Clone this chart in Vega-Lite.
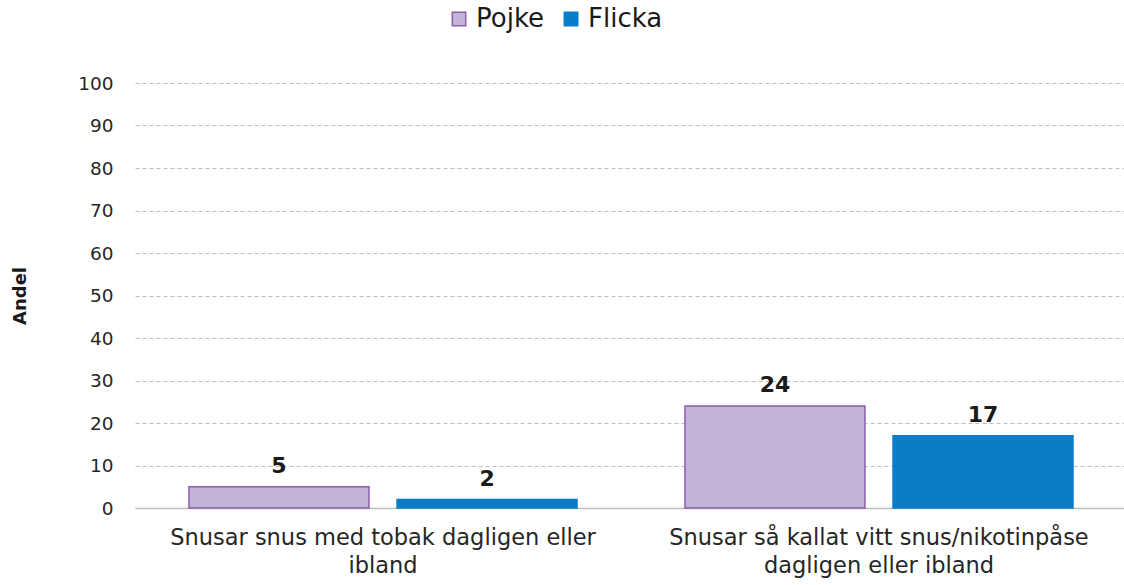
{
  "$schema": "https://vega.github.io/schema/vega-lite/v6.json",
  "autosize": "none",
  "width": 992,
  "height": 425,
  "padding": {"left": 135, "top": 83, "right": 0, "bottom": 77},
  "background": "white",
  "config": {
    "font": "DejaVu Sans",
    "view": {"stroke": null}
  },
  "data": {
    "values": [
      {"kategori": "Snusar snus med tobak dagligen eller ibland", "kon": "Pojke", "andel": 5},
      {"kategori": "Snusar snus med tobak dagligen eller ibland", "kon": "Flicka", "andel": 2},
      {"kategori": "Snusar så kallat vitt snus/nikotinpåse dagligen eller ibland", "kon": "Pojke", "andel": 24},
      {"kategori": "Snusar så kallat vitt snus/nikotinpåse dagligen eller ibland", "kon": "Flicka", "andel": 17}
    ]
  },
  "encoding": {
    "x": {
      "field": "kategori",
      "type": "nominal",
      "sort": null,
      "scale": {"paddingInner": 0.2177, "paddingOuter": 0.1089},
      "axis": {
        "title": null,
        "labelAngle": 0,
        "labelFontSize": 22.5,
        "labelColor": "#262626",
        "labelPadding": 18,
        "labelLineHeight": 28,
        "labelLimit": 600,
        "labelBaseline": "top",
        "ticks": false,
        "domainColor": "#BDBDBD",
        "domainWidth": 1.5,
        "labelExpr": "indexof(datum.value, 'tobak') >= 0 ? ['Snusar snus med tobak dagligen eller', 'ibland'] : ['Snusar så kallat vitt snus/nikotinpåse', 'dagligen eller ibland']"
      }
    },
    "xOffset": {
      "field": "kon",
      "type": "nominal",
      "sort": ["Pojke", "Flicka"],
      "scale": {"paddingInner": 0.135, "paddingOuter": 0}
    },
    "y": {
      "field": "andel",
      "type": "quantitative",
      "scale": {"domain": [0, 100]},
      "axis": {
        "title": "Andel",
        "titleFontSize": 18,
        "titleFontWeight": "bold",
        "titleColor": "#1a1a1a",
        "titlePadding": 48,
        "values": [0, 10, 20, 30, 40, 50, 60, 70, 80, 90, 100],
        "labelFontSize": 18.5,
        "labelColor": "#262626",
        "labelPadding": 22,
        "ticks": false,
        "domain": false,
        "gridDash": [4, 3],
        "gridColor": "#BDBDBD",
        "gridWidth": 1
      }
    }
  },
  "layer": [
    {
      "mark": {"type": "bar", "strokeWidth": 1.5},
      "encoding": {
        "color": {
          "field": "kon",
          "type": "nominal",
          "sort": ["Pojke", "Flicka"],
          "scale": {"domain": ["Pojke", "Flicka"], "range": ["#C3B3D9", "#0A7CC8"]},
          "legend": {
            "title": null,
            "orient": "none",
            "direction": "horizontal",
            "legendX": 311,
            "legendY": -77,
            "symbolType": "square",
            "symbolSize": 180,
            "symbolStrokeWidth": 1.5,
            "labelFontSize": 26,
            "labelColor": "#1a1a1a",
            "labelOffset": 4,
            "columnPadding": 13
          }
        },
        "stroke": {
          "field": "kon",
          "type": "nominal",
          "sort": ["Pojke", "Flicka"],
          "scale": {"domain": ["Pojke", "Flicka"], "range": ["#8C5EA8", "#0A7CC8"]},
          "legend": null
        }
      }
    },
    {
      "mark": {"type": "text", "baseline": "bottom", "dy": -9, "fontSize": 22, "fontWeight": "bold", "color": "#1a1a1a"},
      "encoding": {
        "text": {"field": "andel", "type": "quantitative"}
      }
    }
  ]
}
